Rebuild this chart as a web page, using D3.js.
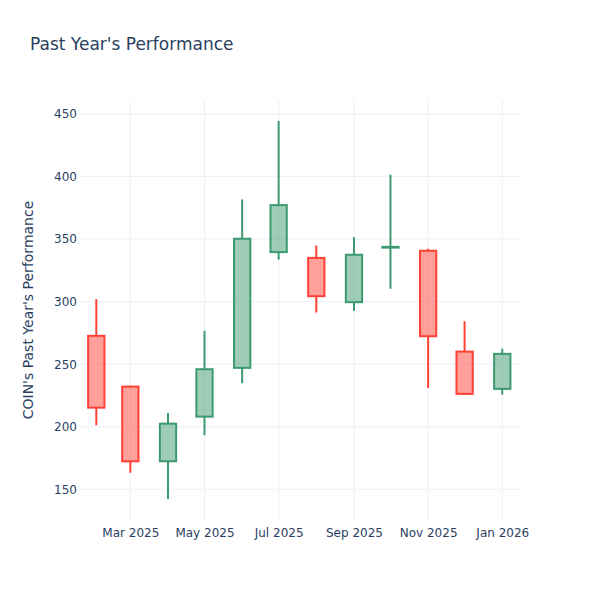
<!DOCTYPE html>
<html>
<head>
<meta charset="utf-8">
<script src="https://cdn.jsdelivr.net/npm/d3@7"></script>
<style>
  body { margin: 0; background: #fff; }
  text { font-family: "DejaVu Sans", Verdana, sans-serif; fill: #2a3f5f; }
</style>
</head>
<body>
<div id="chart"></div>
<script>
// Monthly candles
var months = ["2025-02-01", "2025-03-01", "2025-04-01", "2025-05-01", "2025-06-01", "2025-07-01",
              "2025-08-01", "2025-09-01", "2025-10-01", "2025-11-01", "2025-12-01", "2026-01-01"];
var openVals  = [272.7, 232.1, 172.4, 208.1, 247.1, 339.6, 335.0, 299.6, 343.2, 340.7, 260.1, 230.3];
var highVals  = [302.0, 233.0, 211.0, 276.7, 381.7, 444.4, 344.9, 351.6, 401.5, 342.3, 284.4, 262.5];
var lowVals   = [201.2, 163.3, 142.3, 193.2, 234.8, 333.7, 291.3, 292.7, 310.3, 231.0, 226.0, 225.7];
var closeVals = [215.3, 172.4, 202.5, 246.0, 350.3, 377.2, 304.4, 337.5, 343.8, 272.4, 226.3, 258.3];
var yTicks = [150, 200, 250, 300, 350, 400, 450];

var svgWidth = 600;
var svgHeight = 600;
var margin = { top: 100, right: 80, bottom: 80, left: 80 };
var width = svgWidth - margin.left - margin.right;
var height = svgHeight - margin.top - margin.bottom;

var incColor = "#3D9970";
var decColor = "#FF4136";
var gridColor = "#ebf0f8";

var parseDate = d3.timeParse("%Y-%m-%d");
var candles = months.map(function (m, i) {
  return {
    date: parseDate(m),
    open: openVals[i],
    high: highVals[i],
    low: lowVals[i],
    close: closeVals[i]
  };
});

var svg = d3.select("#chart")
  .append("svg")
  .attr("width", svgWidth)
  .attr("height", svgHeight);

var chartGroup = svg.append("g")
  .attr("transform", `translate(${margin.left}, ${margin.top})`);

// Scales
var xScale = d3.scaleTime()
  .domain([new Date(2025, 0, 18, 14), new Date(2026, 0, 15, 14)])
  .range([0, width]);

var yScale = d3.scaleLinear()
  .domain([125.5, 461.2])
  .range([height, 0]);

// Gridlines
var xTicks = d3.timeMonth.every(2).range(new Date(2025, 2, 1), new Date(2026, 1, 1));

chartGroup.append("g")
  .selectAll("line")
  .data(xTicks)
  .enter()
  .append("line")
  .attr("x1", d => xScale(d))
  .attr("x2", d => xScale(d))
  .attr("y1", 0)
  .attr("y2", height)
  .attr("stroke", gridColor)
  .attr("stroke-width", 1);

chartGroup.append("g")
  .selectAll("line")
  .data(yTicks)
  .enter()
  .append("line")
  .attr("x1", 0)
  .attr("x2", width)
  .attr("y1", d => yScale(d))
  .attr("y2", d => yScale(d))
  .attr("stroke", gridColor)
  .attr("stroke-width", 1);

// Axes (labels only, plotly_white look)
var bottomAxis = d3.axisBottom(xScale)
  .tickValues(xTicks)
  .tickFormat(d3.timeFormat("%b %Y"))
  .tickSize(0)
  .tickPadding(8);

var leftAxis = d3.axisLeft(yScale)
  .tickValues(yTicks)
  .tickSize(0)
  .tickPadding(3);

var xAxisG = chartGroup.append("g")
  .attr("transform", `translate(0, ${height})`)
  .call(bottomAxis);

var yAxisG = chartGroup.append("g")
  .call(leftAxis);

[xAxisG, yAxisG].forEach(function (g) {
  g.select(".domain").remove();
  g.selectAll("text")
    .attr("font-size", "12px")
    .attr("fill", "#2a3f5f")
    .style("font-family", "'DejaVu Sans', Verdana, sans-serif");
});

// Candles
var halfWidth = 6.7 * 24 * 3600 * 1000;

var candleGroup = chartGroup.selectAll(".candle")
  .data(candles)
  .enter()
  .append("g")
  .attr("class", "candle");

function colorOf(d) {
  return d.close >= d.open ? incColor : decColor;
}

// upper wick
candleGroup.append("line")
  .attr("x1", d => xScale(d.date))
  .attr("x2", d => xScale(d.date))
  .attr("y1", d => yScale(d.high))
  .attr("y2", d => yScale(Math.max(d.open, d.close)))
  .attr("stroke", colorOf)
  .attr("stroke-width", 2);

// lower wick
candleGroup.append("line")
  .attr("x1", d => xScale(d.date))
  .attr("x2", d => xScale(d.date))
  .attr("y1", d => yScale(Math.min(d.open, d.close)))
  .attr("y2", d => yScale(d.low))
  .attr("stroke", colorOf)
  .attr("stroke-width", 2);

// body
candleGroup.append("rect")
  .attr("x", d => xScale(new Date(d.date.getTime() - halfWidth)))
  .attr("width", d => xScale(new Date(d.date.getTime() + halfWidth)) - xScale(new Date(d.date.getTime() - halfWidth)))
  .attr("y", d => yScale(Math.max(d.open, d.close)))
  .attr("height", d => Math.max(0.01, yScale(Math.min(d.open, d.close)) - yScale(Math.max(d.open, d.close))))
  .attr("fill", colorOf)
  .attr("fill-opacity", 0.5)
  .attr("stroke", colorOf)
  .attr("stroke-width", 2);

// Title
svg.append("text")
  .attr("x", 30)
  .attr("y", 50)
  .attr("font-size", "17px")
  .text("Past Year's Performance");

// Y axis title
svg.append("text")
  .attr("transform", `translate(33, ${margin.top + height / 2}) rotate(-90)`)
  .attr("text-anchor", "middle")
  .attr("font-size", "14px")
  .text("COIN's Past Year's Performance");
</script>
</body>
</html>
